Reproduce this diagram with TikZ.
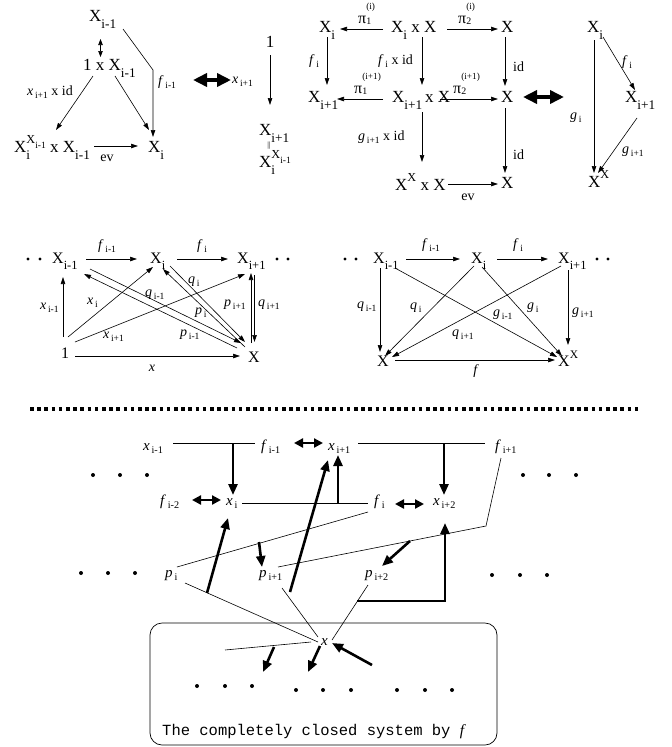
\documentclass[tikz,border=0pt]{standalone}
\usepackage{fontspec}
\usepackage{graphicx}
\setmainfont{Liberation Serif}
\setmonofont{Liberation Mono}
\usetikzlibrary{arrows.meta}
\newcommand{\dn}[1]{\raisebox{-0.42em}{\scalebox{0.78}{#1}}}
\newcommand{\up}[1]{\raisebox{0.5em}{\scalebox{0.72}{#1}}}
\newcommand{\vsub}[2]{\textit{#1}\hspace{0.12em}\raisebox{-0.22em}{\scalebox{0.68}{#2}}}
\newcommand{\pisub}[2]{π\rlap{\raisebox{-0.12em}{\scalebox{0.62}{#1}}}\raisebox{0.85em}{\scalebox{0.58}{#2}}}
\newcommand{\XXsup}{X\rlap{\dn{i}}\up{X\dn{i-1}}}
\tikzset{
  nA/.style={inner sep=0pt, anchor=base west, font=\fontsize{17}{19}\selectfont},
  nB/.style={inner sep=0pt, anchor=base west, font=\fontsize{16}{18}\selectfont},
  lab/.style={inner sep=0pt, anchor=west, font=\fontsize{14}{16}\selectfont},
  plab/.style={inner sep=0pt, anchor=base west, font=\fontsize{16}{18}\selectfont},
  labc/.style={inner sep=0pt, anchor=center, font=\fontsize{14}{16}\selectfont},
  bl/.style={inner sep=0pt, anchor=base west, font=\fontsize{15}{17}\selectfont},
  ar/.style={-{Triangle[length=7pt,width=4.5pt]}, line width=0.6pt},
  dar/.style={{Triangle[length=6pt,width=4.5pt]}-{Triangle[length=6pt,width=4.5pt]}, line width=0.6pt},
  thin/.style={line width=0.6pt},
  thk/.style={-{Triangle[length=11pt,width=9pt]}, line width=2.6pt},
  thkd/.style={{Triangle[length=9pt,width=9pt]}-{Triangle[length=9pt,width=9pt]}, line width=2.6pt},
  bigdbl/.style={{Triangle[length=14pt,width=13pt]}-{Triangle[length=14pt,width=13pt]}, line width=4.5pt},
}
\begin{document}
\begin{tikzpicture}[x=1pt,y=-1pt]
\useasboundingbox (0,0) rectangle (672,747);
% ---------- top-left diagram
\node[nA] (a1) at (89,21) {X\dn{i-1}};
\node[nA] (a2) at (83,70) {1 x X\dn{i-1}};
\node[nA] (a3) at (14,152) {\XXsup{} x X\dn{i-1}};
\node[nA] (a4) at (148,152) {X\dn{i}};
\draw[dar] (100.5,39) -- (100.5,57);
\draw[ar] (123,29) -- (153,70) -- (153,137);
\draw[ar] (93,76) -- (56,130);
\draw[ar] (115,76) -- (149,130);
\draw[ar] (94,146) -- (138,146);
\node[lab] (la1) at (158,82) {\vsub{f}{i-1}};
\node[lab] (la2) at (27,92) {\vsub{x}{i+1} x id};
\node[labc] (la3) at (107,158) {ev};
\draw[bigdbl] (193,80) -- (231,80);
% ---------- middle small
\node[nA, anchor=base] (b1) at (270,47) {1};
\draw[ar] (270,55) -- (270,105);
\node[lab] (lb1) at (232,82) {\vsub{x}{i+1}};
\node[nA] (b2) at (259,135) {X\dn{i+1}};
\node[inner sep=0pt, font=\fontsize{8}{9}\selectfont] (b3) at (269,146) {||};
\node[nA] (b4) at (259,167) {\XXsup};
% ---------- square
\node[nA] (s1) at (319,32) {X\dn{i}};
\node[nA] (s2) at (391,32) {X\dn{i} x X};
\node[nA] (s3) at (501,32) {X};
\node[nA] (s4) at (308,102) {X\dn{i+1}};
\node[nA] (s5) at (392,102) {X\dn{i+1}\,x X};
\node[nA] (s6) at (501,102) {X};
\node[nA] (s7) at (395,190) {X\up{X} x X};
\node[nA] (s8) at (501,188) {X};
\draw[ar] (383,29) -- (340,29);
\draw[ar] (447,29) -- (498,29);
\draw[ar] (327,37) -- (327,85);
\draw[ar] (422,37) -- (422,85);
\draw[ar] (505,37) -- (505,86);
\draw[ar] (383,99) -- (337,99);
\draw[ar] (440,99) -- (498,99);
\draw[ar] (422,112) -- (422,162);
\draw[ar] (505,108) -- (505,173);
\draw[ar] (448,184) -- (498,184);
\node[plab] (ls1) at (358,23) {\pisub{1}{(i)}};
\node[plab] (ls2) at (458,23) {\pisub{2}{(i)}};
\node[plab] (ls3) at (354,93) {\pisub{1}{(i+1)}};
\node[plab] (ls4) at (453,93) {\pisub{2}{(i+1)}};
\node[lab] (ls5) at (309,61) {\vsub{f}{i}};
\node[lab] (ls6) at (378,61) {\vsub{f}{i} x id};
\node[lab] (ls7) at (513,67) {id};
\node[lab] (ls8) at (358,137) {\vsub{g}{i+1} x id};
\node[lab] (ls9) at (513,155) {id};
\node[labc] (ls10) at (468,197) {ev};
\draw[bigdbl] (523,97) -- (564,97);
% ---------- right triangle
\node[nA] (t1) at (587,32) {X\dn{i}};
\node[nA] (t2) at (625,102) {X\dn{i+1}};
\node[nA] (t3) at (588,187) {X\up{X}};
\draw[ar] (603,37) -- (635,90);
\draw[ar] (637,118) -- (598,173);
\draw[ar] (594,40) -- (594,173);
\node[lab] (lt1) at (622,62) {\vsub{f}{i}};
\node[lab] (lt2) at (622,152) {\vsub{g}{i+1}};
\node[lab] (lt3) at (570,118) {\vsub{g}{i}};
% ---------- row 2 left
\foreach \px in {28,40,277,288} \fill (\px,259) circle (1.6);
\node[nB] (c1) at (52,263) {X\dn{i-1}};
\node[nB] (c2) at (150,263) {X\dn{i}};
\node[nB] (c3) at (237,263) {X\dn{i+1}};
\node[nB] (c4) at (61,358) {1};
\node[nB] (c5) at (248,362) {X};
\draw[ar] (86,259) -- (137,259);
\draw[ar] (177,259) -- (228,259);
\draw[ar] (75,356) -- (240,356);
\draw[ar] (63,337) -- (63,277);
\draw[ar] (68,337) -- (153,267);
\draw[ar] (75,342) -- (245,274);
\draw[ar] (90,269) -- (241,343);
\draw[ar] (237,348) -- (84,274);
\draw[ar] (170,266) -- (245,342);
\draw[ar] (245,347) -- (163,269);
\draw[ar] (251,343) -- (251,273);
\draw[ar] (254.5,275) -- (254.5,342);
\node[lab] (lc1) at (98,246) {\vsub{f}{i-1}};
\node[lab] (lc2) at (197,246) {\vsub{f}{i}};
\node[labc] (lc3) at (152,368) {\textit{x}};
\node[lab] (lc4) at (40,308) {\vsub{x}{i-1}};
\node[lab] (lc5) at (87,303) {\vsub{x}{i}};
\node[lab] (lc6) at (103,337) {\vsub{x}{i+1}};
\node[lab] (lc7) at (145,295) {\vsub{q}{i-1}};
\node[lab] (lc8) at (180,335) {\vsub{p}{i-1}};
\node[lab] (lc9) at (188,282) {\vsub{q}{i}};
\node[lab] (lc10) at (195,313) {\vsub{p}{i}};
\node[lab] (lc11) at (224,305) {\vsub{p}{i+1}};
\node[lab] (lc12) at (258,305) {\vsub{q}{i+1}};
% ---------- row 2 right
\foreach \px in {345,356,597,608} \fill (\px,259) circle (1.6);
\node[nB] (d1) at (373,263) {X\dn{i-1}};
\node[nB] (d2) at (471,263) {X\dn{i}};
\node[nB] (d3) at (558,263) {X\dn{i+1}};
\node[nB] (d4) at (377,366) {X};
\node[nB] (d5) at (558,366) {X\up{X}};
\draw[ar] (406,259) -- (460,259);
\draw[ar] (497,259) -- (548,259);
\draw[ar] (395,360) -- (555,360);
\draw[ar] (380,268) -- (380,352);
\draw[ar] (395,268) -- (557,357);
\draw[ar] (474,266) -- (385,356);
\draw[ar] (482,267) -- (562,356);
\draw[ar] (561,266) -- (392,357);
\draw[ar] (568,270) -- (568,345);
\node[lab] (ld1) at (422,245) {\vsub{f}{i-1}};
\node[lab] (ld2) at (513,245) {\vsub{f}{i}};
\node[labc] (ld3) at (476,371) {\textit{f}};
\node[lab] (ld4) at (357,307) {\vsub{q}{i-1}};
\node[lab] (ld5) at (410,308) {\vsub{q}{i}};
\node[lab] (ld6) at (527,308) {\vsub{g}{i}};
\node[lab] (ld7) at (493,315) {\vsub{g}{i-1}};
\node[lab] (ld8) at (452,335) {\vsub{q}{i+1}};
\node[lab] (ld9) at (572,313) {\vsub{g}{i+1}};
% ---------- dotted separator
\draw[line width=4pt, dash pattern=on 3.6pt off 3.6pt] (30,409) -- (640,409);
% ---------- bottom section
\node[bl] (e1) at (143,450) {\vsub{x}{i-1}};
\node[bl] (e2) at (261,450) {\vsub{f}{i-1}};
\node[bl] (e3) at (328,450) {\vsub{x}{i+1}};
\node[bl] (e4) at (495,450) {\vsub{f}{i+1}};
\node[bl] (e5) at (160,505) {\vsub{f}{i-2}};
\node[bl] (e6) at (226,505) {\vsub{x}{i}};
\node[bl] (e7) at (374,505) {\vsub{f}{i}};
\node[bl] (e8) at (433,505) {\vsub{x}{i+2}};
\node[bl] (e9) at (165,577) {\vsub{p}{i}};
\node[bl] (e10) at (259,577) {\vsub{p}{i+1}};
\node[bl] (e11) at (365,577) {\vsub{p}{i+2}};
\node[bl] (e12) at (321,645) {\textit{x}};
\draw[thin] (173,443) -- (255,443);
\draw[thin] (358,443) -- (485,443);
\draw[thin] (242,503) -- (368,503);
\draw[thin] (368,512) -- (177,567);
\draw[thin] (278,567) -- (486,526) -- (501,458);
\draw[thin] (185,583) -- (318,642);
\draw[thin] (282,588) -- (318,637);
\draw[thin] (368,585) -- (332,640);
\draw[thin] (311,642) -- (225,650);
\draw[thk] (233,443) -- (233,495);
\draw[thk] (444,443) -- (444,495);
\draw[thk] (338,503) -- (338,455);
\draw[thk] (259,542) -- (262,567);
\draw[thk] (410,541) -- (382,566);
\draw[thk] (357,601) -- (445,601) -- (445,523);
\draw[thk] (207,593) -- (228,518);
\draw[thk] (290,592) -- (328,460);
\draw[thk] (274,647) -- (263,672);
\draw[thk] (320,646) -- (308,672);
\draw[thk] (372,665) -- (332,643);
\draw[thkd] (294,443) -- (323,443);
\draw[thkd] (192,500) -- (221,500);
\draw[thkd] (395,504) -- (424,504);
\foreach \px/\py in {93/475,120/475,147/475,523/475,549/475,576/475,81/573,108/573,135/573,492/575,520/575,547/575,197/686,225/686,252/686,296/690,323/690,351/690,397/690,425/690,452/690}
  \fill (\px,\py) circle (2);
\draw[line width=0.7pt, rounded corners=12pt] (150,623) rectangle (497,745);
\node[inner sep=0pt, anchor=base west, font=\ttfamily\fontsize{15.5}{17}\selectfont] (box) at (162,735) {The completely closed system by {\rmfamily\itshape f}};
\end{tikzpicture}
\end{document}
